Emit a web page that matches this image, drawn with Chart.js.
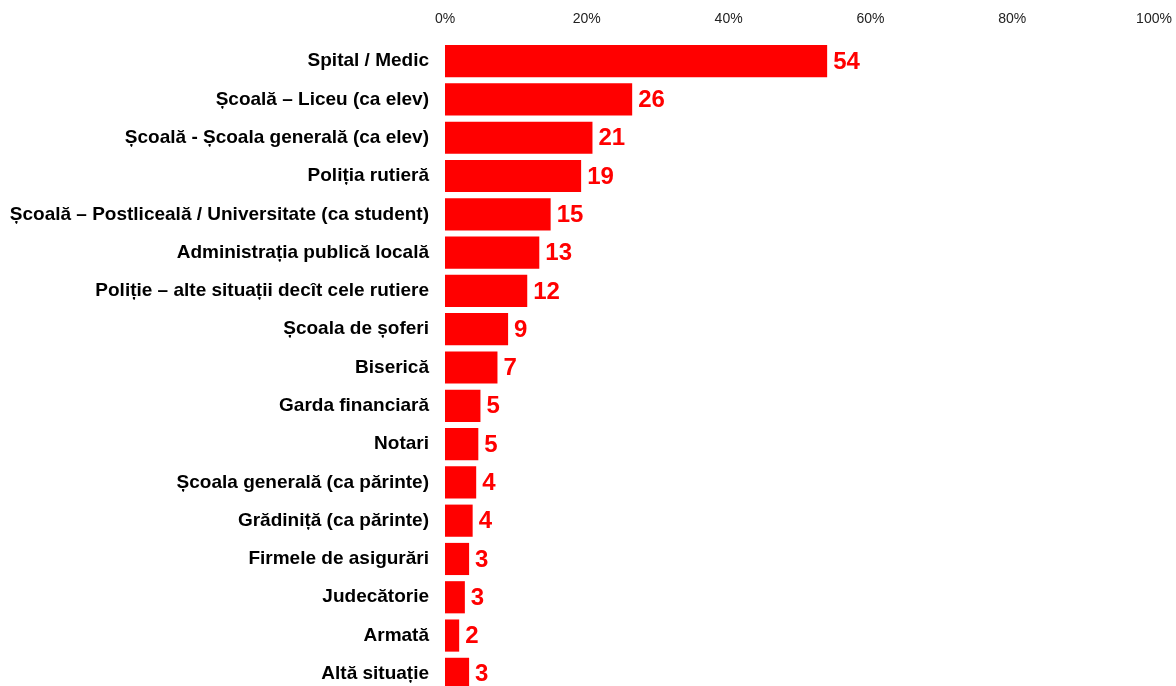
<!DOCTYPE html>
<html>
<head>
<meta charset="utf-8">
<script src="https://cdn.jsdelivr.net/npm/chart.js@4"></script>
<style>
    html, body { margin: 0; padding: 0; background: #fff; overflow: hidden; }
    canvas { display: block; }
</style>
</head>
<body>
<canvas id="chart" width="1176" height="693"></canvas>
<script>
/**
 * Categorii (de sus in jos).
 */
const CATEGORIES = [
    'Spital / Medic',
    'Școală – Liceu (ca elev)',
    'Școală - Școala generală (ca elev)',
    'Poliția rutieră',
    'Școală – Postliceală / Universitate (ca student)',
    'Administrația publică locală',
    'Poliție – alte situații decît cele rutiere',
    'Școala de șoferi',
    'Biserică',
    'Garda financiară',
    'Notari',
    'Școala generală (ca părinte)',
    'Grădiniță (ca părinte)',
    'Firmele de asigurări',
    'Judecătorie',
    'Armată',
    'Altă situație'
];

/**
 * Procente (lungimea barelor) si etichetele afisate langa bare.
 */
const PERCENTS = [53.9, 26.4, 20.8, 19.2, 14.9, 13.3, 11.6, 8.9, 7.4, 5.0, 4.7, 4.4, 3.9, 3.4, 2.8, 2.0, 3.4];
const SHOWN = [54, 26, 21, 19, 15, 13, 12, 9, 7, 5, 5, 4, 4, 3, 3, 2, 3];

const X_TICKS = [0, 20, 40, 60, 80, 100];

const FONT = "'Liberation Sans', Arial, sans-serif";

/**
 * Plugin mic pentru valorile din dreapta barelor.
 */
const valueLabels = {
    id: 'valueLabels',
    afterDatasetsDraw(chart) {
        const ctx = chart.ctx;
        const meta = chart.getDatasetMeta(0);
        ctx.save();
        ctx.font = 'bold 24px ' + FONT;
        ctx.fillStyle = '#ff0000';
        ctx.textAlign = 'left';
        ctx.textBaseline = 'middle';
        meta.data.forEach((bar, i) => {
            ctx.fillText(String(SHOWN[i]), bar.x + 6, bar.y + 1);
        });
        ctx.restore();
    }
};

/**
 * Scoatem paddingul automat al axelor, altfel graficul se strange.
 */
const noPadding = (scale) => {
    scale.paddingTop = scale.paddingBottom = 0;
    scale.paddingLeft = scale.paddingRight = 0;
};

const onDOMLoaded = () => {
    const CTX = document.getElementById('chart').getContext('2d');

    new Chart(CTX, {
        type: 'bar',
        data: {
            labels: CATEGORIES,
            datasets: [{
                data: PERCENTS,
                backgroundColor: '#ff0000',
                borderWidth: 0,
                barPercentage: 0.84,
                categoryPercentage: 1
            }]
        },
        options: {
            indexAxis: 'y',
            responsive: false,
            animation: false,
            layout: { padding: { left: 0, right: 22, top: 0, bottom: 0 } },
            plugins: {
                legend: { display: false },
                tooltip: { enabled: false }
            },
            scales: {
                x: {
                    position: 'top',
                    min: 0,
                    max: 100,
                    afterBuildTicks: (scale) => {
                        scale.ticks = X_TICKS.map((v) => ({ value: v }));
                    },
                    afterFit: (scale) => {
                        scale.height = 42;
                        noPadding(scale);
                    },
                    grid: { display: false, drawTicks: false },
                    border: { display: false },
                    ticks: {
                        padding: 14,
                        color: '#222',
                        font: { family: FONT, size: 14 },
                        maxRotation: 0,
                        callback: (v) => v + '%'
                    }
                },
                y: {
                    afterFit: (scale) => {
                        scale.width = 445;
                        noPadding(scale);
                    },
                    grid: { display: false, drawTicks: false },
                    border: { display: false },
                    ticks: {
                        padding: 16,
                        color: '#000',
                        font: { family: FONT, size: 19, weight: 'bold' },
                        autoSkip: false
                    }
                }
            }
        },
        plugins: [valueLabels]
    });
};

document.addEventListener('DOMContentLoaded', onDOMLoaded);
</script>
</body>
</html>
